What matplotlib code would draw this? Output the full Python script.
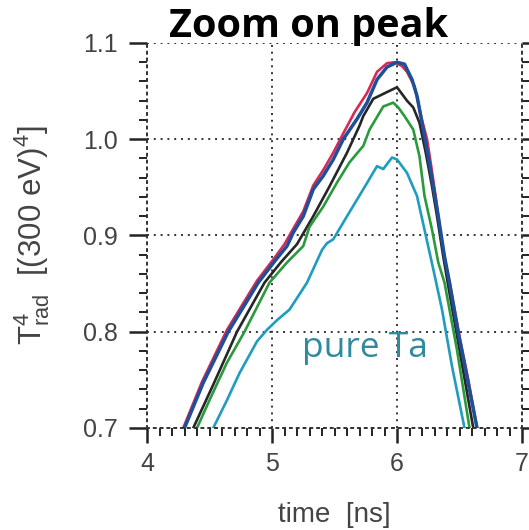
import numpy as np
import matplotlib.pyplot as plt
from matplotlib.ticker import MultipleLocator

# curves (time in ns, Trad^4 in (300 eV)^4)
t_blue = [4.30, 4.45, 4.65, 4.89, 5.02, 5.12, 5.17, 5.25, 5.33, 5.41, 5.49, 5.57, 5.68,
          5.76, 5.84, 5.92, 6.00, 6.06, 6.12, 6.16, 6.21, 6.25, 6.29, 6.33, 6.38, 6.42, 6.49, 6.56, 6.64]
y_blue = [0.700, 0.747, 0.800, 0.851, 0.873, 0.889, 0.903, 0.920, 0.948, 0.962, 0.979, 1.000, 1.021,
          1.038, 1.062, 1.075, 1.080, 1.078, 1.062, 1.045, 1.010, 0.982, 0.951, 0.920, 0.878, 0.851, 0.799, 0.753, 0.700]

t_red = [4.29, 4.44, 4.64, 4.88, 5.01, 5.10, 5.17, 5.25, 5.33, 5.41, 5.49, 5.57, 5.66,
         5.76, 5.84, 5.92, 5.98, 6.04, 6.08, 6.14, 6.20, 6.24, 6.27, 6.31, 6.36, 6.43, 6.50, 6.57, 6.64]
y_red = [0.700, 0.748, 0.802, 0.853, 0.875, 0.891, 0.907, 0.925, 0.952, 0.968, 0.986, 1.006, 1.028,
         1.048, 1.070, 1.079, 1.080, 1.076, 1.070, 1.055, 1.020, 1.000, 0.975, 0.940, 0.890, 0.845, 0.795, 0.750, 0.700]

t_black = [4.37, 4.53, 4.72, 4.94, 5.07, 5.20, 5.33, 5.46, 5.60, 5.70, 5.73, 5.81, 5.92,
           6.00, 6.08, 6.13, 6.18, 6.23, 6.28, 6.32, 6.37, 6.42, 6.50, 6.61]
y_black = [0.700, 0.745, 0.800, 0.851, 0.872, 0.891, 0.920, 0.951, 0.986, 1.014, 1.024, 1.042, 1.049,
           1.054, 1.040, 1.033, 1.017, 0.986, 0.951, 0.920, 0.878, 0.840, 0.781, 0.700]

t_green = [4.40, 4.50, 4.64, 4.78, 4.98, 5.12, 5.25, 5.30, 5.41, 5.52, 5.62, 5.73, 5.78, 5.89,
           5.97, 6.01, 6.06, 6.13, 6.18, 6.22, 6.28, 6.33, 6.38, 6.48, 6.58]
y_green = [0.700, 0.729, 0.768, 0.800, 0.851, 0.872, 0.889, 0.909, 0.930, 0.955, 0.976, 0.993, 1.010, 1.034,
           1.038, 1.033, 1.024, 1.010, 0.982, 0.941, 0.906, 0.872, 0.851, 0.781, 0.700]

t_teal = [4.53, 4.64, 4.74, 4.88, 4.96, 5.04, 5.14, 5.28, 5.40, 5.44, 5.49, 5.60, 5.73, 5.84, 5.89,
          5.96, 6.00, 6.08, 6.16, 6.22, 6.29, 6.36, 6.44, 6.54]
y_teal = [0.700, 0.729, 0.757, 0.790, 0.802, 0.812, 0.823, 0.851, 0.885, 0.892, 0.896, 0.920, 0.948, 0.972, 0.969,
          0.981, 0.979, 0.965, 0.941, 0.906, 0.865, 0.823, 0.764, 0.700]

plt.rcParams['font.family'] = ['Liberation Sans', 'DejaVu Sans']
plt.rcParams['mathtext.fontset'] = 'custom'
plt.rcParams['mathtext.rm'] = 'Liberation Sans'

fig = plt.figure(figsize=(5.29, 5.30), dpi=100)
ax = fig.add_axes([0.2779, 0.1925, 0.7089, 0.7264])

ax.plot(t_red, y_red, color='#d42a55', lw=1.9)
ax.plot(t_black, y_black, color='#262626', lw=1.9)
ax.plot(t_green, y_green, color='#2a9a3c', lw=1.9)
ax.plot(t_teal, y_teal, color='#1f9cc0', lw=1.9)
ax.plot(t_blue, y_blue, color='#1e4f98', lw=2.5)

ax.set_xlim(4, 7)
ax.set_ylim(0.7, 1.1)
ax.xaxis.set_minor_locator(MultipleLocator(0.1))
ax.yaxis.set_minor_locator(MultipleLocator(0.02))
ax.set_xticks([4, 5, 6, 7])
ax.set_yticks([0.7, 0.8, 0.9, 1.0, 1.1])
ax.set_yticklabels(['0.7', '0.8', '0.9', '1.0', '1.1'])

ax.tick_params(which='major', direction='out', width=1.8, color='#222',
               labelsize=18, labelcolor='#444', right=True)
ax.tick_params(which='minor', direction='out', length=6, width=1.4, color='#222', right=True)
ax.tick_params(axis='y', which='major', length=13, pad=8)
ax.tick_params(axis='x', which='major', length=11, pad=6)

ax.grid(True, which='major', linestyle=(0, (1, 2.5)), color='#333', linewidth=1.4)
for s in ['left', 'right', 'bottom']:
    ax.spines[s].set_linestyle((0, (1, 2.5)))
    ax.spines[s].set_linewidth(1.4)
    ax.spines[s].set_color('#333')
ax.spines['top'].set_visible(False)

ax.set_xlabel('time  [ns]', fontsize=20, color='#444', labelpad=19)
ax.set_ylabel(r'$\mathregular{T_{rad}^{4}}$  [(300 eV)$\mathregular{^4}$]', fontsize=22.5,
              color='#444', labelpad=22)

ax.text(5.744, 0.774, 'pure Ta', color='#2f8a9e', fontsize=25.5, ha='center', va='baseline',
        family=['Open Sans', 'DejaVu Sans'])

fig.text(0.584, 0.930, 'Zoom on peak', fontsize=28.5, fontweight='bold', ha='center',
         va='baseline', family=['Open Sans', 'DejaVu Sans'])

fig.savefig('out.png', dpi=100)
